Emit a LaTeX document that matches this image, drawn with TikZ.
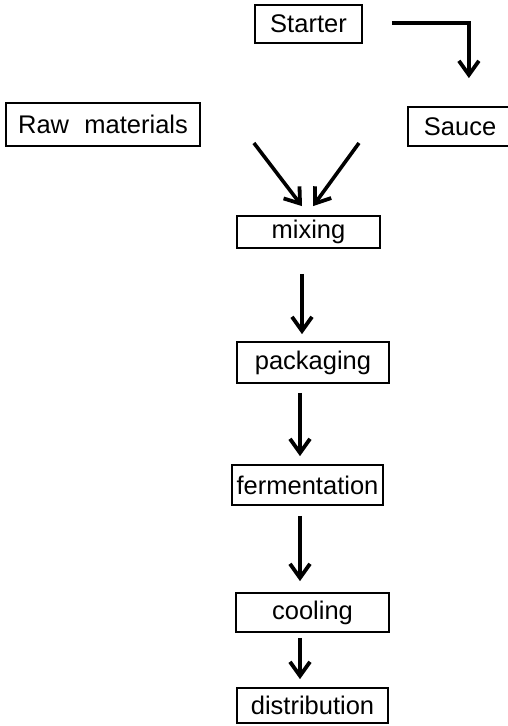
\documentclass[tikz,border=0pt]{standalone}
\usepackage{fontspec}
\setmainfont{Liberation Sans}
\usetikzlibrary{arrows.meta,calc}
\tikzset{
  box/.style={draw, line width=1.8pt, inner sep=0pt, font=\fontsize{25.5}{30}\selectfont},
  arr/.style={line width=3.6pt, -{Straight Barb[length=14pt,width=20pt,line width=3.8pt]}},
}
\begin{document}
\begin{tikzpicture}[x=1pt,y=-1pt]
\useasboundingbox (0,0) rectangle (508,726);
\clip (0,0) rectangle (508,726);
\node[box, minimum width=107pt, minimum height=38pt] (starter) at (308.5,24) {Starter};
\node[box, anchor=west, inner xsep=16pt, text width=78pt, align=left, minimum height=39pt] (sauce) at (407,126.5) {Sauce};
\node[box, minimum width=194pt, minimum height=43pt] (raw) at (103,124.5) {Raw\hspace{0.6em}materials};
\node[box, minimum width=143pt, minimum height=32pt] (mixing) at (308.5,232) {mixing};
\node[box, minimum width=152pt, minimum height=41pt] (packaging) at (313,362.5) {packaging};
\node[box, minimum width=151pt, minimum height=40pt] (fermentation) at (307.5,485) {fermentation};
\node[box, minimum width=153pt, minimum height=39pt] (cooling) at (312.5,612.5) {cooling};
\node[box, minimum width=151pt, minimum height=35pt] (distribution) at (312.5,705.5) {distribution};

\draw[arr] ($(starter.east)+(29,-1)$) -| ($(sauce.north)+(6,-28)$);
\draw[arr] ($(raw.east)+(53,18.5)$) -- ($(mixing.north)+(-6.5,-9)$);
\draw[arr] ($(sauce.west)+(-48,16.5)$) -- ($(mixing.north)+(4.5,-9)$);
\draw[arr] ($(mixing.south)+(-6.5,25)$) -- ($(packaging.north)+(-11,-7)$);
\draw[arr] ($(packaging.south)+(-13,9)$) -- ($(fermentation.north)+(-7.5,-8)$);
\draw[arr] ($(fermentation.south)+(-7.5,10)$) -- ($(cooling.north)+(-12.5,-11)$);
\draw[arr] ($(cooling.south)+(-12.5,5)$) -- ($(distribution.north)+(-12.5,-8)$);
\end{tikzpicture}
\end{document}
